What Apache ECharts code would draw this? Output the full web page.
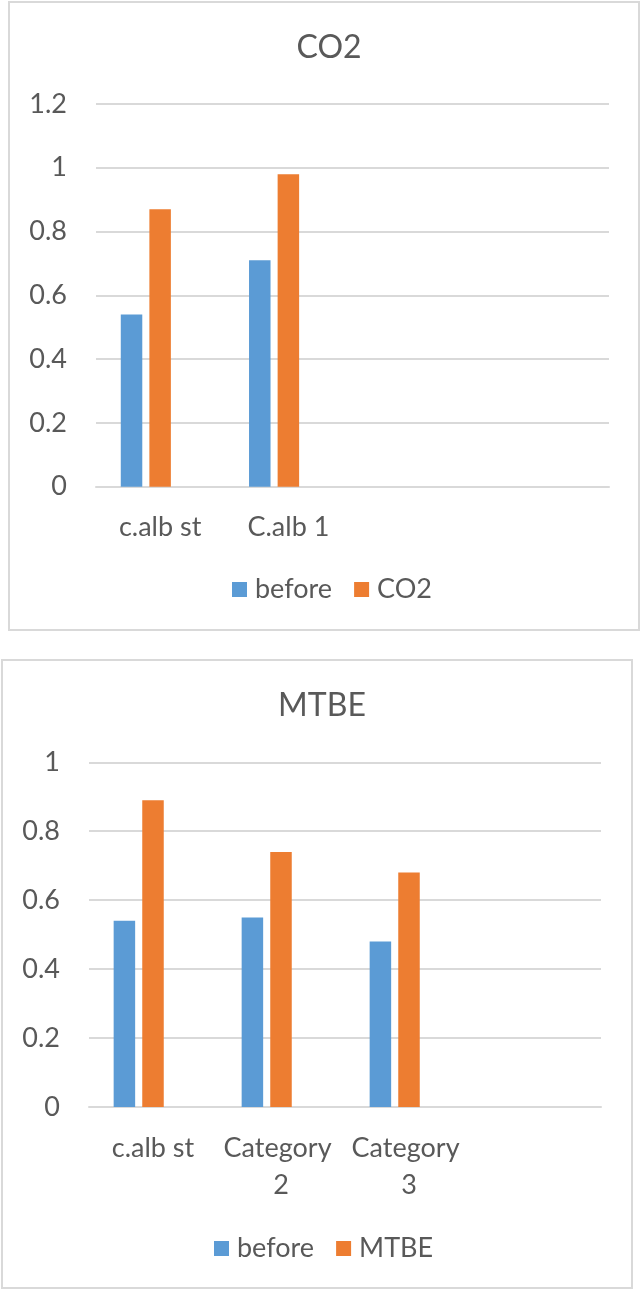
<!DOCTYPE html>
<html>
<head>
<meta charset="utf-8">
<script src="https://cdn.jsdelivr.net/npm/echarts@6/dist/echarts.min.js"></script>
<style>
html,body{margin:0;padding:0;background:#fff;}
.c{position:absolute;left:0;top:0;width:641px;height:1291px;}
</style>
</head>
<body>
<div id="chartTop" class="c"></div>
<div id="chartBot" class="c"></div>
<script>
// Top chart data
const topTitle = 'CO2';
const topCategories = ['c.alb st', 'C.alb 1', '', ''];
const topBefore = [0.54, 0.71, null, null];
const topAfter = [0.87, 0.98, null, null];
const topSeriesNames = ['before', 'CO2'];
const topYTicks = { min: 0, max: 1.2, interval: 0.2 };

// Bottom chart data
const botTitle = 'MTBE';
const botCategories = ['c.alb st', 'Category 2', 'Category 3', ''];
const botBefore = [0.54, 0.55, 0.48, null];
const botAfter = [0.89, 0.74, 0.68, null];
const botSeriesNames = ['before', 'MTBE'];
const botYTicks = { min: 0, max: 1, interval: 0.2 };

const FONT = 'Lato';
const TXT = '#595959';
const GRID = '#d9d9d9';
const BLUE = '#5b9bd5';
const ORANGE = '#ed7d31';
const FS = 27;

function buildOption(cfg) {
  return {
    animation: false,
    graphic: [
      { type: 'rect', shape: cfg.box, style: { fill: 'none', stroke: GRID, lineWidth: 2 } }
    ],
    title: { text: cfg.title, left: cfg.cx, top: cfg.titleTop, textAlign: 'center',
      textStyle: { color: TXT, fontFamily: FONT, fontSize: 32, fontWeight: 'normal' } },
    legend: { data: cfg.names, top: cfg.legendTop, left: cfg.legendLeft, icon: 'rect',
      itemWidth: 15, itemHeight: 15, itemGap: 22,
      textStyle: { color: TXT, fontFamily: FONT, fontSize: FS, padding: [0, 0, 0, 3] } },
    grid: cfg.grid,
    xAxis: {
      type: 'category', data: cfg.categories,
      axisLine: { show: true, lineStyle: { color: GRID, width: 2 } },
      axisTick: { show: false },
      axisLabel: { color: TXT, fontFamily: FONT, fontSize: FS, margin: cfg.labelMargin,
                   lineHeight: cfg.labelLH, width: 118, overflow: 'break', interval: 0 }
    },
    yAxis: {
      type: 'value', min: cfg.ticks.min, max: cfg.ticks.max, interval: cfg.ticks.interval,
      axisLine: { show: false }, axisTick: { show: false },
      axisLabel: { color: TXT, fontFamily: FONT, fontSize: FS, margin: 29 },
      splitLine: { lineStyle: { color: GRID, width: 2 } }
    },
    series: [
      { type: 'bar', name: cfg.names[0], data: cfg.before, barWidth: 21.5, barGap: '33%',
        itemStyle: { color: BLUE }, silent: true },
      { type: 'bar', name: cfg.names[1], data: cfg.after, barWidth: 21.5, barGap: '33%',
        itemStyle: { color: ORANGE }, silent: true },
      { type: 'bar', name: 'empty', data: cfg.categories.map(() => null), barWidth: 21.5,
        barGap: '33%', silent: true }
    ]
  };
}

echarts.init(document.getElementById('chartTop')).setOption(buildOption({
  title: topTitle, categories: topCategories, before: topBefore, after: topAfter,
  names: topSeriesNames, ticks: topYTicks,
  box: { x: 9, y: 2, width: 630, height: 628 }, cx: 324, titleTop: 27,
  legendTop: 571, legendLeft: 227,
  grid: { left: 96, right: 32, top: 104, height: 382.7 },
  labelMargin: 25, labelLH: 32
}));

echarts.init(document.getElementById('chartBot')).setOption(buildOption({
  title: botTitle, categories: botCategories, before: botBefore, after: botAfter,
  names: botSeriesNames, ticks: botYTicks,
  box: { x: 2, y: 660, width: 630, height: 628 }, cx: 317, titleTop: 685,
  legendTop: 1230, legendLeft: 209,
  grid: { left: 89, right: 40, top: 762.3, height: 344.7 },
  labelMargin: 23, labelLH: 37
}));
</script>
</body>
</html>
